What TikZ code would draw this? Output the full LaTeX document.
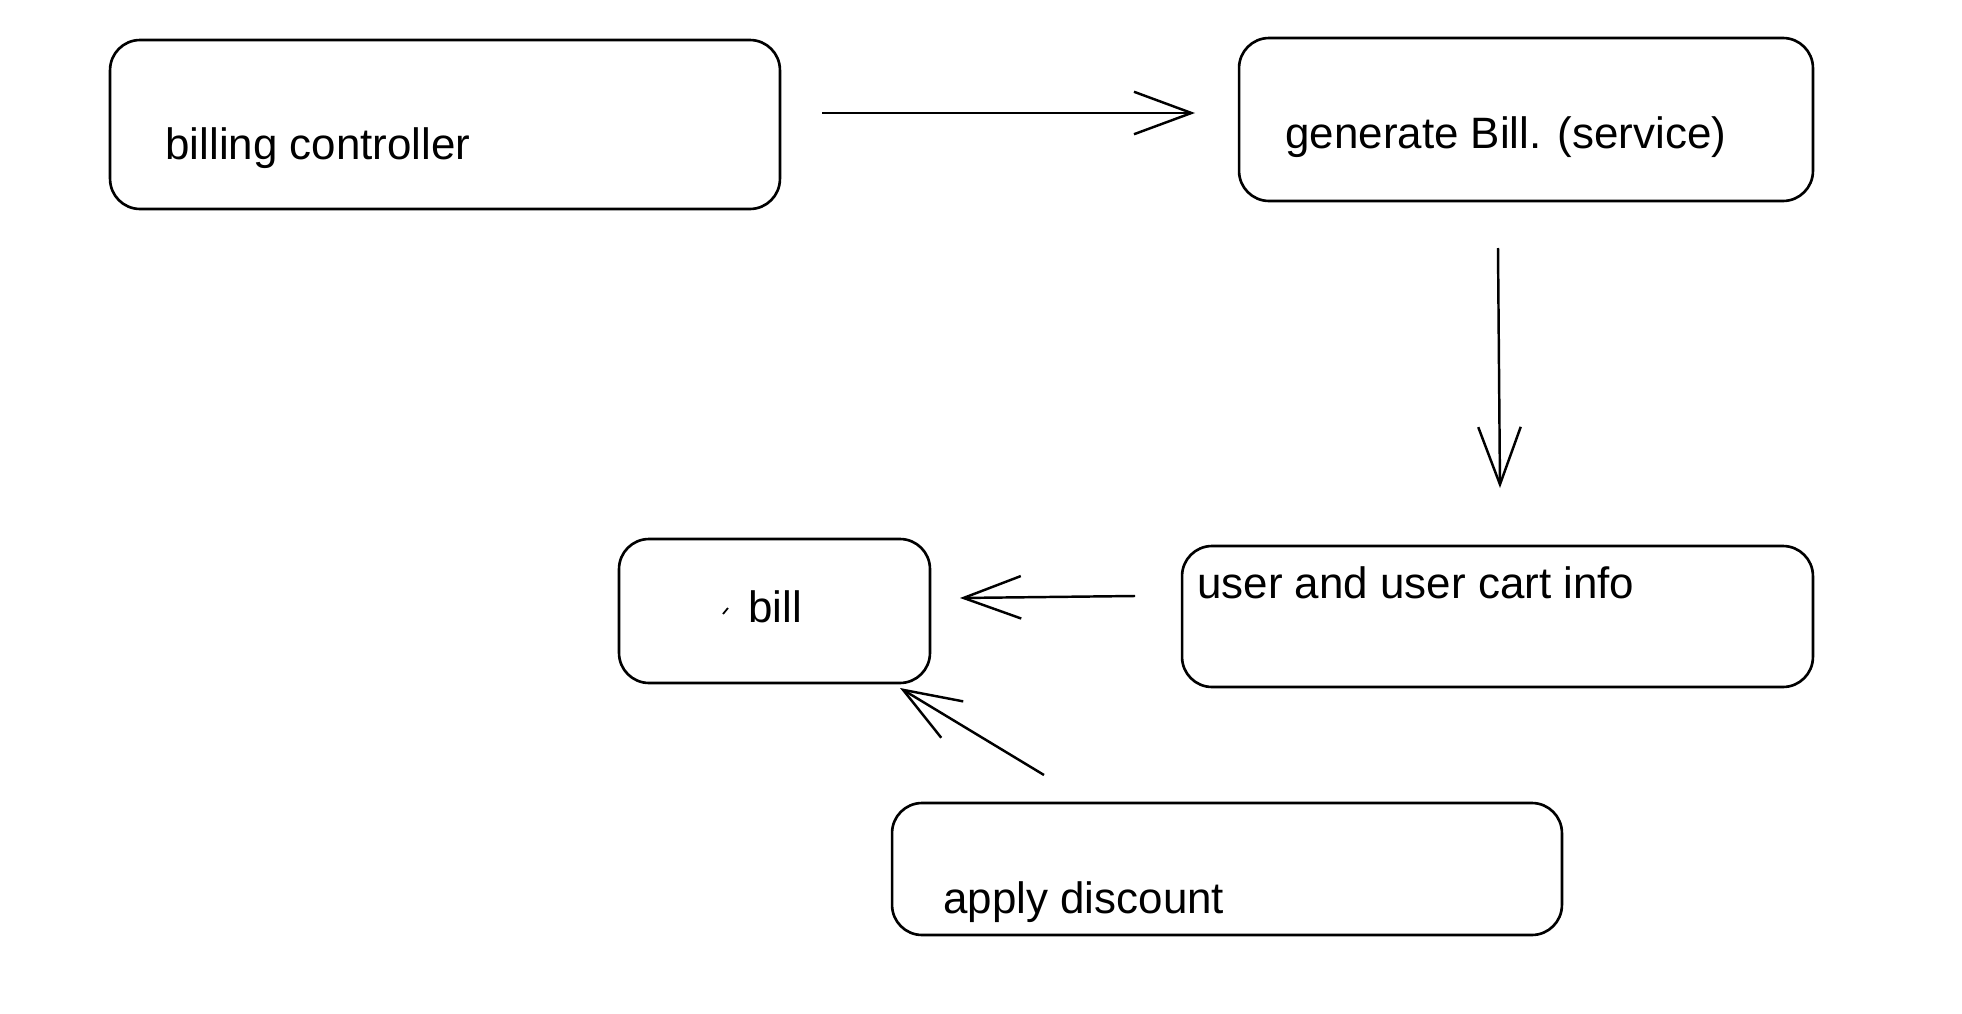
\documentclass[tikz,border=0pt]{standalone}
\usepackage{fontspec}
\setmainfont{Liberation Sans}
\usepackage{tikz}
\usetikzlibrary{arrows.meta}

\tikzset{
	box/.style={draw, rounded corners=0.6cm, line width=1.5pt, inner sep=0pt},
	boxtext/.style={anchor=base west, inner sep=0pt, font=\fontsize{25}{29}\selectfont},
	flow/.style={line width=1.4pt, -{Straight Barb[length=1.15cm, width=0.85cm, line width=1.4pt]}}
}

\begin{document}
\begin{tikzpicture}[x=0.02cm,y=-0.02cm]
	\useasboundingbox (0,0) rectangle (1962,1014);
	\draw[] (445,124.5) node[box, minimum width=13.4cm, minimum height=3.38cm] (Controller) {};
	\draw[] (1526,119.5) node[box, minimum width=11.48cm, minimum height=3.26cm] (Generate) {};
	\draw[] (1497.5,616.5) node[box, minimum width=12.62cm, minimum height=2.82cm] (Cart) {};
	\draw[] (774.5,611) node[box, minimum width=6.22cm, minimum height=2.88cm] (Bill) {};
	\draw[] (1227,869) node[box, minimum width=13.4cm, minimum height=2.64cm] (Discount) {};

	\node[boxtext] (Controllertext) at (165,159) {billing controller};
	\node[boxtext] (Generatetext) at (1285,148) {generate Bill. (service)};
	\node[boxtext] (Carttext) at (1197,598) {user and user cart info};
	\node[boxtext] (Billtext) at (748,622) {bill};
	\node[boxtext] (Discounttext) at (943,913) {apply discount};
	\draw[line width=1pt] (723,614) -- (728,608);

	\coordinate (Cstart) at (822,113);
	\coordinate (Gend) at (1195,113);
	\coordinate (Gstart) at (1498,248);
	\coordinate (Uend) at (1500,488);
	\coordinate (Ustart) at (1135,596);
	\coordinate (Bend) at (960,598);
	\coordinate (Dstart) at (1044,775);
	\coordinate (Dend) at (900,688);

	\draw[flow] (Cstart) -- (Gend);
	\draw[flow] (Gstart) -- (Uend);
	\draw[flow] (Ustart) -- (Bend);
	\draw[flow] (Dstart) -- (Dend);
\end{tikzpicture}
\end{document}
